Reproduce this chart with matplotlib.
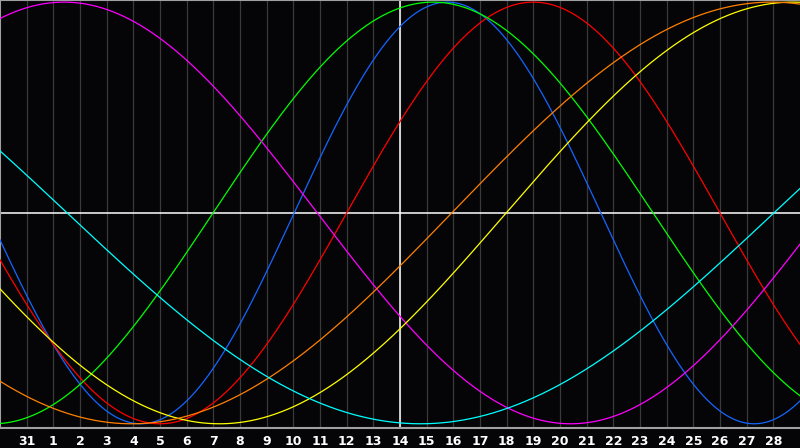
import numpy as np
import matplotlib
matplotlib.use('Agg')
import matplotlib.pyplot as plt

# day labels under the grid lines (position 1..29)
day_labels = ['31'] + [str(d) for d in range(1, 29)]

# cycles: period in days and position of the peak (in grid units)
names = ['physical', 'emotional', 'intellectual', 'intuitive', 'aesthetic', 'awareness', 'spiritual']
periods = [23, 28, 33, 38, 43, 48, 53]
peaks = [16.78, 20.0, 16.24, 2.4, 29.73, 28.94, -10.73]
colors = ['#1466ff', '#ff0000', '#00ff00', '#ff00ff', '#ffff00', '#ff8000', '#00ffff']

bg = '#050508'
fig = plt.figure(figsize=(8, 4.48), dpi=100, facecolor=bg)
ax = fig.add_axes([0, 20 / 448, 1, 428 / 448])
ax.set_facecolor(bg)

ax.set_xlim(0, 30)
ax.set_ylim(-1.02, 1.01)

# vertical grid lines for each day
for i in range(1, len(day_labels) + 1):
    ax.axvline(i, color='#3a3a3a', lw=0.9, zorder=1)

# today + zero line
ax.axhline(0, color='white', lw=1.1, zorder=2)
ax.axvline(15, color='white', lw=1.1, zorder=2)

t = np.linspace(0, 30, 1200)
for p, tp, c in zip(periods, peaks, colors):
    ax.plot(t, np.cos(2 * np.pi * (t - tp) / p), color=c, lw=0.9, zorder=3)

ax.set_xticks(range(1, len(day_labels) + 1))
ax.set_xticklabels(day_labels, color='white', fontsize=9, fontweight='bold')
ax.tick_params(axis='x', length=0, pad=5)
ax.set_yticks([])

for side in ['left', 'top', 'bottom']:
    ax.spines[side].set_color('#a0a0a0')
    ax.spines[side].set_linewidth(1.5)
ax.spines['right'].set_visible(False)

fig.savefig('out.png', dpi=100, facecolor=bg)
